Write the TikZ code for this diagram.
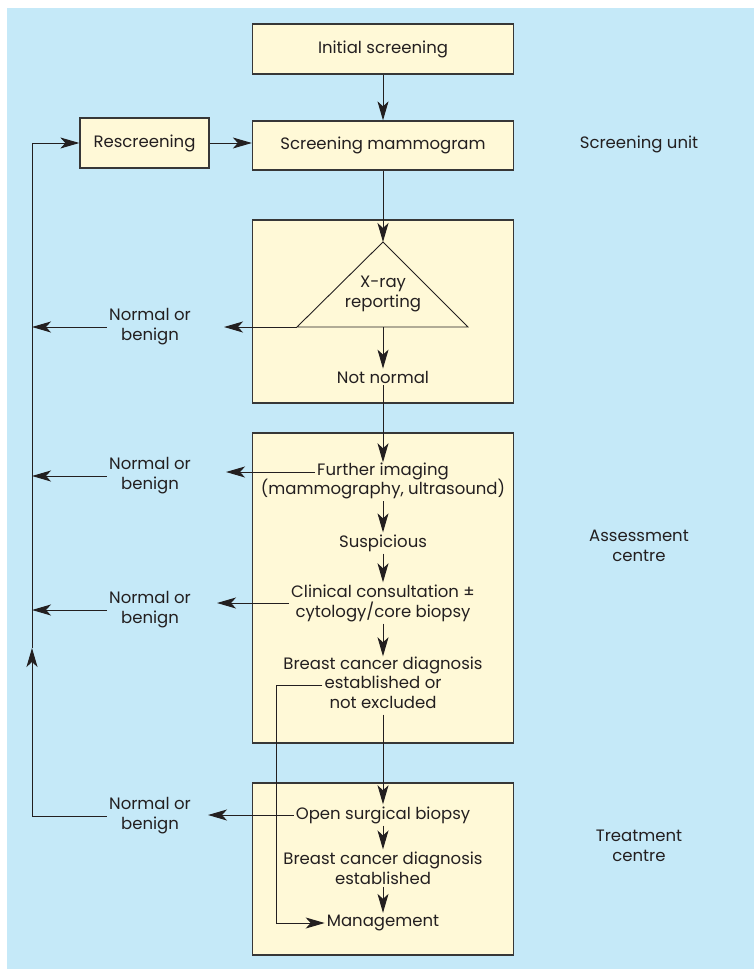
\documentclass[tikz,border=0pt]{standalone}
\usepackage{fontspec}
\setmainfont{Poppins}
\usepackage{tikz}
\usetikzlibrary{arrows.meta, positioning}
\definecolor{panelblue}{RGB}{197,233,248}
\definecolor{boxyellow}{RGB}{255,249,215}
\definecolor{edgegray}{RGB}{55,55,55}
\definecolor{inkgray}{RGB}{35,31,32}

\begin{document}
\begin{tikzpicture}[
    x=1pt, y=-1pt,
    font=\fontsize{16.5}{20}\selectfont,
    stepbox/.style={rectangle, draw=edgegray, line width=1.3pt, fill=boxyellow, inner sep=0pt, text=inkgray},
    txt/.style={inner sep=2pt, align=center, text=inkgray},
    linetxt/.style={inner xsep=2pt, inner ysep=1pt, text height=12pt, text depth=5pt, text=inkgray},
    sidetxt/.style={align=center, text=inkgray},
    flow/.style={-{Stealth[length=19pt, width=11pt, inset=5pt]}, line width=1pt, inkgray},
    plain/.style={line width=1pt, inkgray}
  ]

  \useasboundingbox (0,0) rectangle (754,969);
  \fill[panelblue] (7,8) rectangle (754,969);

  % Screening unit
  \node[stepbox, minimum width=261, minimum height=50] (init) at (383,49) {Initial screening};
  \node[stepbox, minimum width=261, minimum height=49] (scrmam) at (383,145.5) {Screening mammogram};
  \node[stepbox, minimum width=129, minimum height=50] (rescr) at (144.5,143) {Rescreening};
  \node[sidetxt] (unitscr) at (639,144) {Screening unit};

  % Containers
  \node[stepbox, minimum width=261, minimum height=183] (xbox) at (383,311.5) {};
  \node[stepbox, minimum width=261, minimum height=310] (assbox) at (383,588) {};
  \node[stepbox, minimum width=261, minimum height=172] (trtbox) at (383,869) {};

  % X-ray reporting triangle
  \coordinate (xapex) at (383,242);
  \coordinate (xleft) at (297,327);
  \coordinate (xright) at (468,327);
  \coordinate (xbase) at (383,327);
  \draw[line width=0.9pt, inkgray] (xapex) -- (xright) -- (xleft) -- cycle;
  \node[txt] (xray) at (383,294) {X-ray\\reporting};
  \node[txt] (notnorm) at (383,377) {Not normal};

  % Assessment centre
  \node[linetxt] (furtha) at (383,472) {Further imaging};
  \node[linetxt, below=0pt of furtha] (furthb) {(mammography, ultrasound)};
  \node[txt] (susp) at (383,543) {Suspicious};
  \node[txt] (clin) at (383,603) {Clinical consultation ±\\cytology/core biopsy};
  \node[linetxt] (bcda) at (383,666) {Breast cancer diagnosis};
  \node[linetxt, below=0pt of bcda] (bcdb) {established or};
  \node[linetxt, below=0pt of bcdb] (bcdc) {not excluded};
  \node[sidetxt] (unitass) at (639,546) {Assessment\\centre};

  % Treatment centre
  \node[txt] (open) at (383,815) {Open surgical biopsy};
  \node[txt] (bcde) at (383,868) {Breast cancer diagnosis\\established};
  \node[txt] (manag) at (383,923) {Management};
  \node[sidetxt] (unittrt) at (639,846) {Treatment\\centre};

  % Normal or benign outcomes
  \node[txt] (nb1) at (150,327) {Normal or\\benign};
  \node[txt] (nb2) at (150,476) {Normal or\\benign};
  \node[txt] (nb3) at (150,610) {Normal or\\benign};
  \node[txt] (nb4) at (150,816) {Normal or\\benign};

  % Main flow
  \draw[flow] (init) -- (scrmam);
  \draw[flow] (rescr.east) -- (rescr.east -| scrmam.west);
  \draw[flow] (scrmam) -- (xapex);
  \draw[flow] (xbase) -- (notnorm);
  \draw[flow] (notnorm) -- (furtha);
  \draw[flow] (furthb) -- (susp);
  \draw[flow] (susp) -- (clin);
  \draw[flow] (clin) -- (bcda);
  \draw[flow] (bcdc) -- (open);
  \draw[flow] (open) -- (bcde);
  \draw[flow] (bcde) -- (manag);
  \draw[flow] (bcdb.west) -- ++(-46,0) |- (manag.west);

  % Exits to normal or benign
  \draw[flow] (xleft) -- ([xshift=31pt]nb1.east |- xleft);
  \draw[flow] (furtha.west) -- ([xshift=33pt]nb2.east |- furtha.west);
  \draw[flow] (clin.west) -- ([xshift=24pt]nb3.east |- clin.west);
  \draw[flow] (open.west) -- ([xshift=15pt]nb4.east |- open.west);

  % Back to rescreening
  \coordinate (loopbot) at (32,817);
  \coordinate (loopmid) at (32,648);
  \draw[flow] (nb1.west) -- (nb1.west -| loopbot);
  \draw[flow] (nb2.west) -- (nb2.west -| loopbot);
  \draw[flow] (nb3.west) -- (nb3.west -| loopbot);
  \draw[flow] (nb4.west) -| (loopmid);
  \draw[flow] (loopmid) |- (rescr.west);

\end{tikzpicture}
\end{document}
